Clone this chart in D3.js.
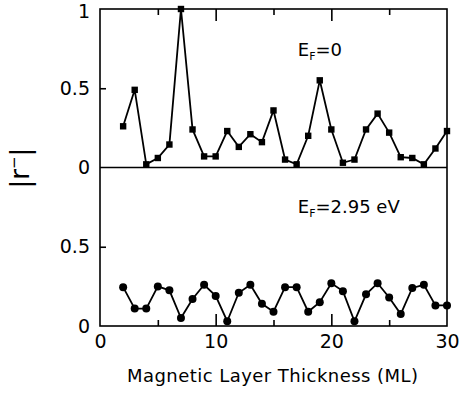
<!DOCTYPE html>
<html>
<head>
<meta charset="utf-8">
<script src="https://cdn.jsdelivr.net/npm/d3@7"></script>
<style>
  body { margin: 0; background: #fff; }
  text { font-family: "DejaVu Sans", sans-serif; fill: #000; }
  .frame { fill: none; stroke: #000; stroke-width: 1.6; }
  .axis path { display: none; }
  .axis line { stroke: #000; stroke-width: 1.6; }
  .series { fill: none; stroke: #000; stroke-width: 1.8; }
</style>
</head>
<body>
<div id="chart"></div>
<script>
// Layer thickness (ML), shared by both panels
const thickness = [2, 3, 4, 5, 6, 7, 8, 9, 10, 11, 12, 13, 14, 15, 16, 17, 18, 19, 20,
  21, 22, 23, 24, 25, 26, 27, 28, 29, 30];

// |r-| for E_F = 0 (upper panel, squares)
const rEf0 = [0.26, 0.49, 0.02, 0.06, 0.145, 1.0, 0.24, 0.07, 0.07, 0.23, 0.13, 0.21, 0.16,
  0.36, 0.05, 0.02, 0.20, 0.55, 0.24, 0.03, 0.05, 0.24, 0.34, 0.22, 0.065, 0.06, 0.02, 0.12, 0.23];

// |r-| for E_F = 2.95 eV (lower panel, circles)
const rEf295 = [0.245, 0.11, 0.11, 0.25, 0.225, 0.05, 0.17, 0.26, 0.19, 0.03, 0.21, 0.26, 0.14,
  0.09, 0.245, 0.245, 0.09, 0.15, 0.27, 0.22, 0.03, 0.20, 0.27, 0.18, 0.075, 0.24, 0.26, 0.13, 0.13];

// Tick values
const xTicks = [0, 5, 10, 15, 20, 25, 30];
const yTicks = [0, 0.5, 1, 1.5, 2];

// Sizes
const W = 463, H = 395;
const margin = { top: 9, right: 16, bottom: 69, left: 100 };
const width = W - margin.left - margin.right;
const height = H - margin.top - margin.bottom;

const svg = d3.select("#chart").append("svg")
  .attr("width", W)
  .attr("height", H);

const g = svg.append("g")
  .attr("transform", "translate(" + margin.left + "," + margin.top + ")");

// Scales: both panels stacked on one axis, lower panel 0..1, upper panel 1..2
const x = d3.scaleLinear().domain([0, 30]).range([0, width]);
const y = d3.scaleLinear().domain([0, 2]).range([height, 0]);

// Tick length: long at 10/20, short at 5/15/25, none at the corners
const tickLen = d => (d === 0 || d === 30) ? 0 : (d % 10 === 0 ? 12 : 6);

// Bottom axis (inward ticks + labels)
const gX = g.append("g")
  .attr("class", "axis")
  .attr("transform", "translate(0," + height + ")")
  .call(d3.axisBottom(x)
    .tickValues(xTicks)
    .tickSize(0)
    .tickPadding(9)
    .tickFormat(d => d % 10 === 0 ? d : ""));
gX.selectAll(".tick line").attr("y2", d => -tickLen(d));
gX.selectAll("text").style("font-size", "19px");

// Top axis (ticks only)
const gXTop = g.append("g")
  .attr("class", "axis")
  .call(d3.axisTop(x).tickValues(xTicks).tickSize(0).tickFormat(""));
gXTop.selectAll(".tick line").attr("y2", d => tickLen(d));

// Left axis, labels restart at 0 for the upper panel
const gY = g.append("g")
  .attr("class", "axis")
  .call(d3.axisLeft(y)
    .tickValues(yTicks)
    .tickSize(0)
    .tickPadding(10)
    .tickFormat(d => d === 2 ? 1 : d % 1));
gY.selectAll(".tick line").attr("x2", d => d % 1 === 0.5 ? 6 : 0);
gY.selectAll("text")
  .style("font-size", "19px")
  .attr("dy", d => d === 2 ? "0.45em" : "0.32em");

// Frame and divider (upper panel zero line)
g.append("rect")
  .attr("class", "frame")
  .attr("width", width)
  .attr("height", height);
g.append("line")
  .attr("class", "frame")
  .attr("x1", 0).attr("x2", width)
  .attr("y1", y(1)).attr("y2", y(1));

// Points, upper panel shifted up by one unit
const upperPts = thickness.map((t, i) => ({ t: t, v: rEf0[i] + 1 }));
const lowerPts = thickness.map((t, i) => ({ t: t, v: rEf295[i] }));

const line = d3.line()
  .x(d => x(d.t))
  .y(d => y(d.v));

// Upper panel
g.append("path").attr("class", "series").attr("d", line(upperPts));
g.selectAll("rect.sq")
  .data(upperPts)
  .enter()
  .append("rect")
  .attr("class", "sq")
  .attr("x", d => x(d.t) - 3.2)
  .attr("y", d => y(d.v) - 3.2)
  .attr("width", 6.4)
  .attr("height", 6.4);

// Lower panel
g.append("path").attr("class", "series").attr("d", line(lowerPts));
g.selectAll("circle")
  .data(lowerPts)
  .enter()
  .append("circle")
  .attr("cx", d => x(d.t))
  .attr("cy", d => y(d.v))
  .attr("r", 4);

// Panel labels
function efLabel(xPos, yPos, rest) {
  const t = g.append("text")
    .attr("x", xPos)
    .attr("y", yPos)
    .style("font-size", "18px");
  t.append("tspan").text("E");
  t.append("tspan").attr("dy", 4).style("font-size", "11px").text("F");
  t.append("tspan").attr("dy", -4).text(rest);
}
efLabel(x(17.1), 47, "=0");
efLabel(x(17.1), 204, "=2.95 eV");

// Axis title
svg.append("text")
  .attr("x", margin.left + width / 2 - 1)
  .attr("y", 382)
  .attr("text-anchor", "middle")
  .attr("textLength", 291)
  .style("font-size", "18px")
  .text("Magnetic Layer Thickness (ML)");

// Y label |r-|, rotated
const yl = svg.append("text")
  .attr("transform", "translate(29,168) rotate(-90)")
  .attr("text-anchor", "middle")
  .style("font-size", "26px");
yl.append("tspan").text("|r");
yl.append("tspan").attr("dy", -10).style("font-size", "15px").text("−");
yl.append("tspan").attr("dy", 10).text("|");
</script>
</body>
</html>
